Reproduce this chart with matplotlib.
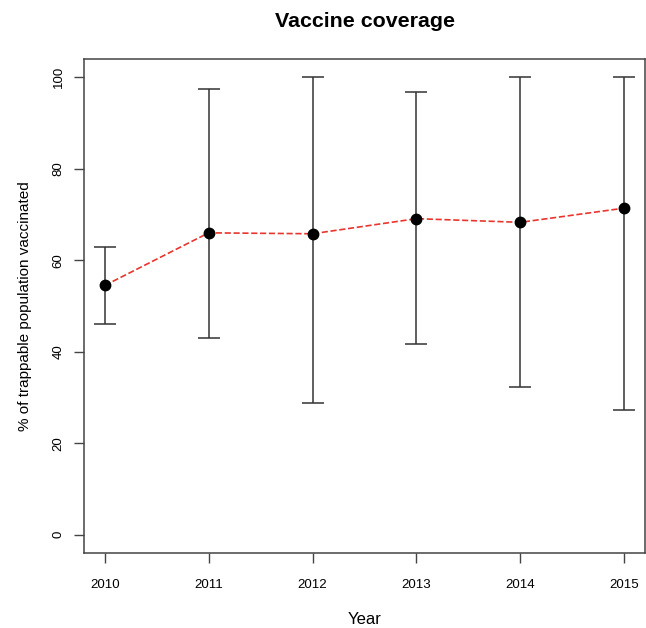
import matplotlib.pyplot as plt
import numpy as np

plt.rcParams['font.family'] = ['Liberation Sans', 'DejaVu Sans']

years = [2010, 2011, 2012, 2013, 2014, 2015]
coverage = [54.5, 66.0, 65.8, 69.1, 68.3, 71.4]
lower = [46.1, 43.1, 28.8, 41.6, 32.3, 27.2]
upper = [63.0, 97.4, 100.0, 96.7, 100.0, 100.0]

cov = np.array(coverage)
err = [cov - np.array(lower), np.array(upper) - cov]

fig = plt.figure(figsize=(6.46, 6.28), dpi=100)
ax = fig.add_axes([0.130, 0.1194, 0.8685, 0.7866])

ax.errorbar(years, coverage, yerr=err, fmt='none', ecolor='#333333',
            elinewidth=1.1, capsize=8, capthick=1.1, zorder=2)
ax.plot(years, coverage, '--', color='#e8362e', lw=1.2, zorder=3)
ax.plot(years, coverage, 'o', color='black', ms=7.5, zorder=4)

ax.set_xlim(2009.8, 2015.2)
ax.set_ylim(-4, 104)
ax.set_xticks(years)
ax.set_yticks([0, 20, 40, 60, 80, 100])
for lab in ax.get_yticklabels():
    lab.set_rotation(90)
    lab.set_va('center')
ax.tick_params(length=7, width=1, color='#444444', labelsize=9.5)
ax.tick_params(axis='x', pad=12)
ax.tick_params(axis='y', pad=7)

for s in ax.spines.values():
    s.set_color('#444444')
    s.set_linewidth(1.1)

ax.set_title('Vaccine coverage', fontsize=15.4, fontweight='bold', pad=23)
ax.set_xlabel('Year', fontsize=12, labelpad=15)
ax.set_ylabel('% of trappable population vaccinated', fontsize=11, labelpad=15)

plt.savefig('out.png', dpi=100)
